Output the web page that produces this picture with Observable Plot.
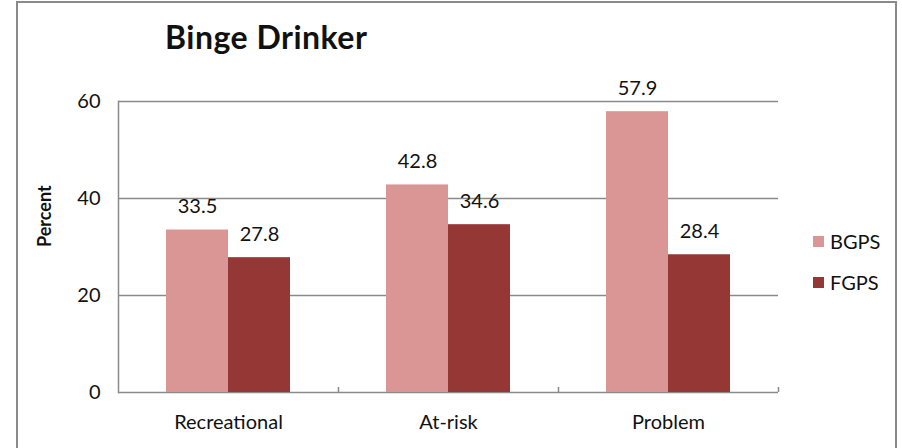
<!DOCTYPE html>
<html><head><meta charset="utf-8">
<script src="https://cdn.jsdelivr.net/npm/d3@7"></script>
<script src="https://cdn.jsdelivr.net/npm/@observablehq/plot@0.6"></script>
<style>
body{margin:0;background:#fff;}
#wrap{position:relative;width:902px;height:448px;overflow:hidden;font-family:Lato,sans-serif;color:#111;}
#border{position:absolute;left:16px;top:1px;width:881px;height:480px;border:2px solid #8a8a8a;box-sizing:border-box;}
#chart{position:absolute;left:0;top:0;}
#title{position:absolute;left:165px;top:18px;font-weight:bold;font-size:32px;line-height:38px;white-space:nowrap;letter-spacing:0.5px;}
.leg{position:absolute;left:813px;display:flex;align-items:center;font-size:20px;line-height:20px;}
.sw{width:11px;height:11px;margin-right:6px;}
</style></head>
<body>
<div id="wrap">
  <div id="border"></div>
  <div id="chart"></div>
  <div id="title">Binge Drinker</div>
</div>
<script>
const categories = ["Recreational", "At-risk", "Problem"];
const series = ["BGPS", "FGPS"];
const bgps = [33.5, 42.8, 57.9];
const fgps = [27.8, 34.6, 28.4];
const yTicks = [0, 20, 40, 60];
const colors = ["#d99694", "#953735"];

const rows = categories.flatMap((c, i) => [
  {category: c, series: series[0], value: bgps[i]},
  {category: c, series: series[1], value: fgps[i]}
]);

const W = 902, H = 448, mL = 118, mR = 124, mT = 101, mB = 56;
const facetW = (W - mL - mR) / categories.length;
const gray = "#8a8a8a";

const plot = Plot.plot({
  width: W, height: H,
  marginLeft: mL, marginRight: mR, marginTop: mT, marginBottom: mB,
  style: {fontFamily: "Lato, sans-serif", fontSize: "20px", color: "#111", background: "transparent", overflow: "visible"},
  fx: {domain: categories, padding: 0, label: null},
  x: {domain: series, paddingInner: 0, paddingOuter: 0.755, axis: null},
  y: {domain: [0, 60], label: null},
  color: {domain: series, range: colors},
  marks: [
    Plot.gridY(yTicks, {stroke: gray, strokeOpacity: 1, strokeWidth: 1.5}),
    Plot.frame({anchor: "left", facetAnchor: "left", stroke: gray, strokeWidth: 1.5}),
    Plot.axisY(yTicks, {tickSize: 0, tickPadding: 18, label: null}),
    Plot.text(["Percent"], {frameAnchor: "left", dx: -73, rotate: -90, fontWeight: "bold", fontSize: 18, facetAnchor: "left"}),
    Plot.barY(rows, {fx: "category", x: "series", y: "value", fill: "series"}),
    Plot.text(rows, {fx: "category", x: "series", y: "value", text: d => d.value.toFixed(1), dy: -17, lineAnchor: "bottom", fill: "#111"}),
    Plot.axisFx({anchor: "bottom", tickSize: 0, tickPadding: 22, label: null}),
    Plot.axisFx({anchor: "bottom", tickSize: -5, tickFormat: () => "", label: null, dx: facetW / 2, stroke: gray, strokeWidth: 1.5})
  ]
});
document.getElementById("chart").appendChild(plot);

const color = plot.scale("color");
const wrap = document.getElementById("wrap");
series.forEach((s, i) => {
  const row = document.createElement("div");
  row.className = "leg";
  row.style.top = (231 + i * 41) + "px";
  const sw = document.createElement("div");
  sw.className = "sw";
  sw.style.background = color.range[i];
  const label = document.createElement("span");
  label.textContent = s;
  row.appendChild(sw);
  row.appendChild(label);
  wrap.appendChild(row);
});
</script>
</body></html>
